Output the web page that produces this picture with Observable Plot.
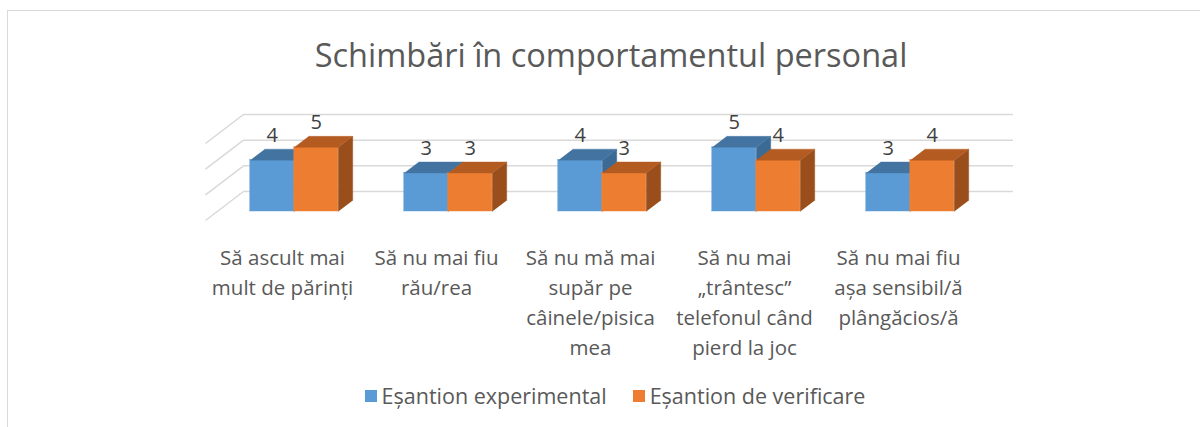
<!DOCTYPE html>
<html>
<head>
<meta charset="utf-8">
<script src="https://cdn.jsdelivr.net/npm/d3@7"></script>
<script src="https://cdn.jsdelivr.net/npm/@observablehq/plot@0.6"></script>
<style>
  html, body { margin: 0; padding: 0; background: #fff; }
  #wrap { position: relative; width: 1200px; height: 427px; overflow: hidden; font-family: "Open Sans", sans-serif; color: #595959; }
  #frame { position: absolute; left: 7px; top: 10px; width: 1300px; height: 500px; border-left: 1.5px solid #d9d9d9; border-top: 1.5px solid #d9d9d9; }
  #chart { position: absolute; left: 0; top: 0; }
  #title { position: absolute; left: 0; width: 1222px; top: 39px; text-align: center; font-size: 32.5px; line-height: 32px; white-space: nowrap; }
  #legend { position: absolute; top: 385px; left: 0; width: 1230px; display: flex; justify-content: center; font-size: 21.5px; line-height: 21.5px; white-space: nowrap; }
  .item { display: flex; align-items: center; margin: 0 13px; }
  .sw { width: 12px; height: 12px; margin-right: 5px; }
</style>
</head>
<body>
<div id="wrap">
  <div id="frame"></div>
  <div id="chart"></div>
  <div id="title"></div>
  <div id="legend"></div>
</div>
<script>
// ---- data ----
const title = "Schimbări în comportamentul personal";
const categories = [
  "Să ascult mai\nmult de părinți",
  "Să nu mai fiu\nrău/rea",
  "Să nu mă mai\nsupăr pe\ncâinele/pisica\nmea",
  "Să nu mai\n„trântesc”\ntelefonul când\npierd la joc",
  "Să nu mai fiu\nașa sensibil/ă\nplângăcios/ă"
];
const seriesNames = ["Eșantion experimental", "Eșantion de verificare"];
const experimental = [4, 3, 4, 5, 3];
const verificare = [5, 3, 3, 4, 4];
const yTicks = [0, 2, 4, 6];

// ---- styling / geometry ----
const colors = [
  {front: "#5b9bd5", top: "#4374a1", side: "#3b6a95"},
  {front: "#ed7d31", top: "#b45b22", side: "#9a4e1b"}
];
const xRange = [243, 1013], yRange = [191, 114];
const pxX = (xRange[1] - xRange[0]) / categories.length;
const pxY = (yRange[0] - yRange[1]) / 6;
// full depth of the floor, in pixels, converted to data units
const DXU = -38 / pxX, DVU = -29 / pxY;
const dFront = 0.69, dBack = 0.31;
const W = 44 / pxX;

const series = [experimental, verificare];
const fronts = [], tops = [], sides = [], labels = [];
series.forEach((vals, s) => {
  fronts[s] = []; tops[s] = []; sides[s] = []; labels[s] = [];
  vals.forEach((v, i) => {
    const xa = i + 0.5 + (s === 0 ? -W : 0), xb = xa + W;
    const P = (x, y, d) => ({x: x + d * DXU, y: y + d * DVU});
    fronts[s].push({x1: xa + dFront * DXU, x2: xb + dFront * DXU, y1: dFront * DVU, y2: v + dFront * DVU});
    const id = s + "-" + i;
    [P(xa, v, dFront), P(xb, v, dFront), P(xb, v, dBack), P(xa, v, dBack)].forEach(p => tops[s].push({...p, id}));
    [P(xb, 0, dFront), P(xb, v, dFront), P(xb, v, dBack), P(xb, 0, dBack)].forEach(p => sides[s].push({...p, id}));
    labels[s].push({x: (xa + xb) / 2 + dFront * DXU, y: v, text: String(v)});
  });
});

const marks = [
  Plot.ruleY(yTicks, {x1: 0, x2: categories.length, stroke: "#d9d9d9", strokeWidth: 1.5}),
  Plot.link(yTicks, {x1: 0, y1: d => d, x2: DXU, y2: d => d + DVU, stroke: "#d9d9d9", strokeWidth: 1.5})
];
series.forEach((vals, s) => {
  marks.push(
    Plot.rect(fronts[s], {x1: "x1", x2: "x2", y1: "y1", y2: "y2", fill: colors[s].front, stroke: colors[s].front, strokeWidth: 0.4}),
    Plot.line(sides[s], {x: "x", y: "y", z: "id", fill: colors[s].side, stroke: colors[s].side, strokeWidth: 0.4}),
    Plot.line(tops[s], {x: "x", y: "y", z: "id", fill: colors[s].top, stroke: colors[s].top, strokeWidth: 0.4})
  );
});
series.forEach((vals, s) => {
  marks.push(Plot.text(labels[s], {x: "x", y: "y", text: "text", lineAnchor: "bottom", dy: 2, fontSize: 20, fill: "#404040"}));
});
marks.push(Plot.text(categories, {
  x: (d, i) => i + 0.5 + DXU, y: () => DVU, text: d => d,
  lineAnchor: "top", dy: 23, fontSize: 20.5, lineHeight: 30 / 20.5, fill: "#595959"
}));

const chart = Plot.plot({
  width: 1200, height: 427,
  margin: 0,
  style: {fontFamily: "'Open Sans', sans-serif", background: "transparent", overflow: "visible"},
  x: {type: "linear", domain: [0, categories.length], range: xRange, axis: null},
  y: {type: "linear", domain: [0, 6], range: yRange, axis: null},
  marks
});
document.getElementById("chart").appendChild(chart);

document.getElementById("title").textContent = title;
const leg = document.getElementById("legend");
seriesNames.forEach((n, s) => {
  const it = document.createElement("div"); it.className = "item";
  const sw = document.createElement("div"); sw.className = "sw"; sw.style.background = colors[s].front;
  const tx = document.createElement("span"); tx.textContent = n;
  it.appendChild(sw); it.appendChild(tx); leg.appendChild(it);
});
</script>
</body>
</html>
